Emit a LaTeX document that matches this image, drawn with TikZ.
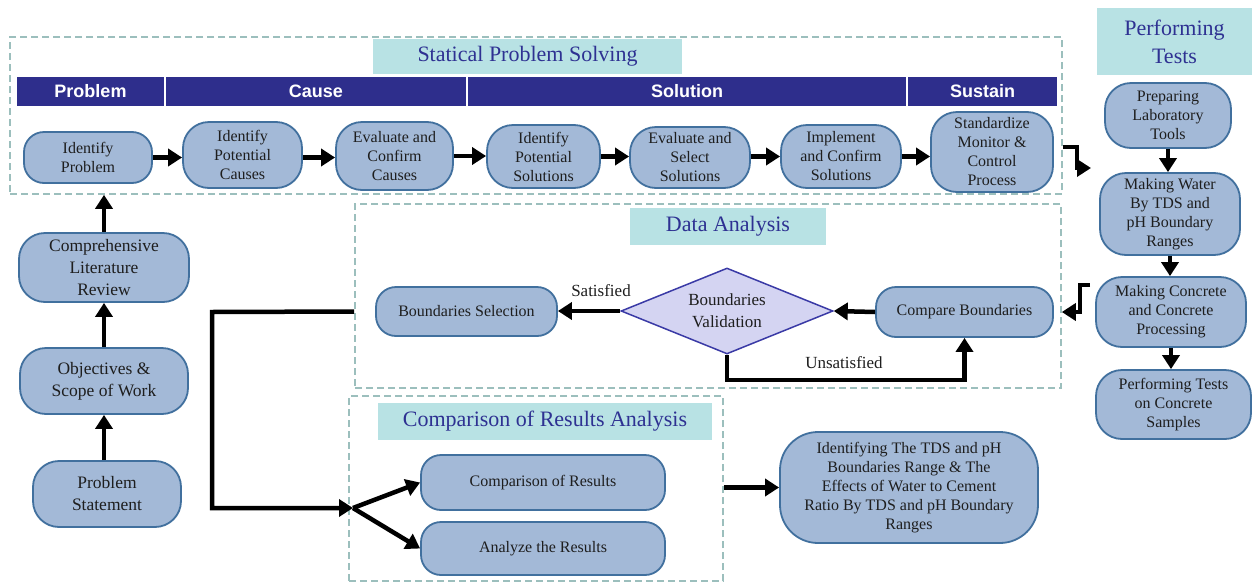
\documentclass[tikz,border=0pt]{standalone}
\usepackage{fontspec}
\setmainfont{Liberation Serif}
\newfontfamily\hdfont{Liberation Sans}
\usetikzlibrary{arrows.meta,shapes.geometric,calc}
\definecolor{nodefill}{HTML}{A3B9D7}
\definecolor{nodeline}{HTML}{41709E}
\definecolor{dashc}{HTML}{9CBFBD}
\definecolor{titlefill}{HTML}{B8E2E4}
\definecolor{titletext}{HTML}{2E3192}
\definecolor{hdr}{HTML}{2E2E8C}
\definecolor{dfill}{HTML}{D4D4F2}
\definecolor{dline}{HTML}{3A3AA6}
\definecolor{txt}{HTML}{1E1E1E}
\begin{document}
\begin{tikzpicture}[x=1pt,y=-1pt,
 proc/.style={draw=nodeline, fill=nodefill, line width=1.8pt, rounded corners=26pt, align=center, inner sep=0pt, text=txt, font=\fontsize{16}{19}\selectfont},
 flat/.style={rounded corners=20pt},
 bigproc/.style={proc, font=\fontsize{17.5}{22}\selectfont},
 grp/.style={draw=dashc, line width=1.6pt, dash pattern=on 7pt off 4pt, inner sep=0pt},
 ttl/.style={fill=titlefill, text=titletext, font=\fontsize{22}{28}\selectfont, align=center, inner sep=0pt},
 hd/.style={fill=hdr, text=white, font=\hdfont\bfseries\fontsize{18}{20}\selectfont, inner sep=0pt, minimum height=29pt},
 arr/.style={draw=black, line width=4.5pt, -{Triangle[length=14pt,width=17pt]}},
 lbl/.style={font=\fontsize{17}{20}\selectfont, text=txt, inner sep=0pt},
]
\fill[white] (0,0) rectangle (1259,584);
\useasboundingbox (0,0) rectangle (1259,584);

% groups
\node[grp, minimum width=1052pt, minimum height=157pt] (sps) at (536,115.5) {};
\node[grp, minimum width=706pt, minimum height=184pt] (da) at (708,296) {};
\node[grp, minimum width=374pt, minimum height=185pt] (cra) at (536,488.5) {};

% titles
\node[ttl, minimum width=309pt, minimum height=35pt] (spst) at (527.5,56.5) {Statical Problem Solving};
\node[ttl, minimum width=155pt, minimum height=67pt] (pt) at (1174.5,41.5) {Performing\\Tests};
\node[ttl, minimum width=196pt, minimum height=37pt] (dat) at (728,226.5) {Data Analysis};
\node[ttl, minimum width=334pt, minimum height=37pt] (crat) at (545,421.5) {Comparison of Results Analysis};

% header bar
\node[hd, minimum width=147pt] (hp) at (90.5,91.5) {Problem};
\node[hd, minimum width=300pt] (hc) at (316,91.5) {Cause};
\node[hd, minimum width=438pt] (hs) at (687,91.5) {Solution};
\node[hd, minimum width=149pt] (hsu) at (982.5,91.5) {Sustain};

% top row
\node[proc, flat, minimum width=128pt, minimum height=51pt] (idp) at (88,157.5) {Identify\\Problem};
\node[proc, minimum width=119pt, minimum height=66pt] (ipc) at (242.5,155) {Identify\\Potential\\Causes};
\node[proc, minimum width=117pt, minimum height=68pt] (ecc) at (394.5,156) {Evaluate and\\Confirm\\Causes};
\node[proc, minimum width=113pt, minimum height=63pt] (ips) at (543.5,156.5) {Identify\\Potential\\Solutions};
\node[proc, minimum width=120pt, minimum height=61pt] (ess) at (690,157.5) {Evaluate and\\Select\\Solutions};
\node[proc, minimum width=120pt, minimum height=63pt] (ics) at (841,156.5) {Implement\\and Confirm\\Solutions};
\node[proc, minimum width=122pt, minimum height=80pt] (smc) at (992,152) {Standardize\\Monitor \&\\Control\\Process};

\draw[arr] (idp.east) -- (idp.east -| ipc.west);
\draw[arr] (ipc.east |- idp.east) -- (idp.east -| ecc.west);
\draw[arr] (ecc.east) -- (ecc.east -| ips.west);
\draw[arr] (ips.east) -- (ips.east -| ess.west);
\draw[arr] (ess.east |- ics.east) -- (ics.west);
\draw[arr] (ics.east) -- (ics.east -| smc.west);

% performing tests column
\node[proc, minimum width=126pt, minimum height=65pt] (plt) at (1168,115.5) {Preparing\\Laboratory\\Tools};
\node[proc, minimum width=140pt, minimum height=82pt] (mw) at (1170,214) {Making Water\\By TDS and\\pH Boundary\\Ranges};
\node[proc, minimum width=150pt, minimum height=70pt] (mc) at (1171,312) {Making Concrete\\and Concrete\\Processing};
\node[proc, minimum width=155pt, minimum height=69pt] (ptc) at (1173.5,404.5) {Performing Tests\\on Concrete\\Samples};

\draw[arr] (plt.south) -- (plt.south |- mw.north);
\draw[arr] (mw.south) -- (mw.south |- mc.north);
\draw[arr] (mc.south) -- (mc.south |- ptc.north);

\coordinate (s1) at (1077,147);
\coordinate (s2) at (1091,168);
\draw[arr] (sps.east |- s1) -- (s1) |- (s2);

% data analysis
\node[proc, flat, minimum width=181pt, minimum height=49pt] (bs) at (466.5,311.5) {Boundaries Selection};
\node[proc, flat, minimum width=177pt, minimum height=50pt] (cb) at (964.5,312) {Compare Boundaries};
\node[diamond, draw=dline, fill=dfill, line width=1.5pt, minimum width=212pt, minimum height=86pt, inner sep=0pt] (dia) at (727,311) {};
\node[align=center, inner sep=0pt, text=txt, font=\fontsize{17}{22}\selectfont] (diat) at (dia.center) {Boundaries\\Validation};

\draw[arr] (cb.west) -- (dia.east);
\draw[arr] (dia.west) -- (dia.west -| bs.east);
\node[lbl] (sat) at (601,291) {Satisfied};
\draw[arr] (dia.south) -- ++(0,25) -| (cb.south);
\node[lbl] (unsat) at (844,363) {Unsatisfied};

\coordinate (s3) at (1090,285);
\coordinate (s4) at (1080,312);
\draw[arr] (s3) -| (s4) -- (da.east |- s4);

% left column
\node[bigproc, minimum width=170pt, minimum height=69pt] (lit) at (104,267.5) {Comprehensive\\Literature\\Review};
\node[bigproc, minimum width=168pt, minimum height=66pt] (obj) at (104,381) {Objectives \&\\Scope of Work};
\node[bigproc, minimum width=148pt, minimum height=66pt] (ps) at (107,494) {Problem\\Statement};

\draw[arr] (obj.south |- ps.north) -- (obj.south);
\draw[arr] (obj.north) -- (lit.south);
\draw[arr] (lit.north) -- (lit.north |- sps.south);

% comparison of results
\node[proc, flat, minimum width=244pt, minimum height=55pt] (cr) at (543,482.5) {Comparison of Results};
\node[proc, flat, minimum width=244pt, minimum height=53pt] (ar) at (543,548.5) {Analyze the Results};
\node[proc, rounded corners=38pt, minimum width=258pt, minimum height=111pt] (idt) at (909,487.5) {Identifying The TDS and pH\\Boundaries Range \& The\\Effects of Water to Cement\\Ratio By TDS and pH Boundary\\Ranges};

\coordinate (lc) at (212,312);
\coordinate (split) at (353,508);
\draw[arr] (da.west |- bs.west) -- (lc) |- (split);
\draw[arr] (split) -- (cr.west);
\draw[arr] (split) -- (ar.west);
\draw[arr] (cra.east |- idt.west) -- (idt.west);
\end{tikzpicture}
\end{document}
